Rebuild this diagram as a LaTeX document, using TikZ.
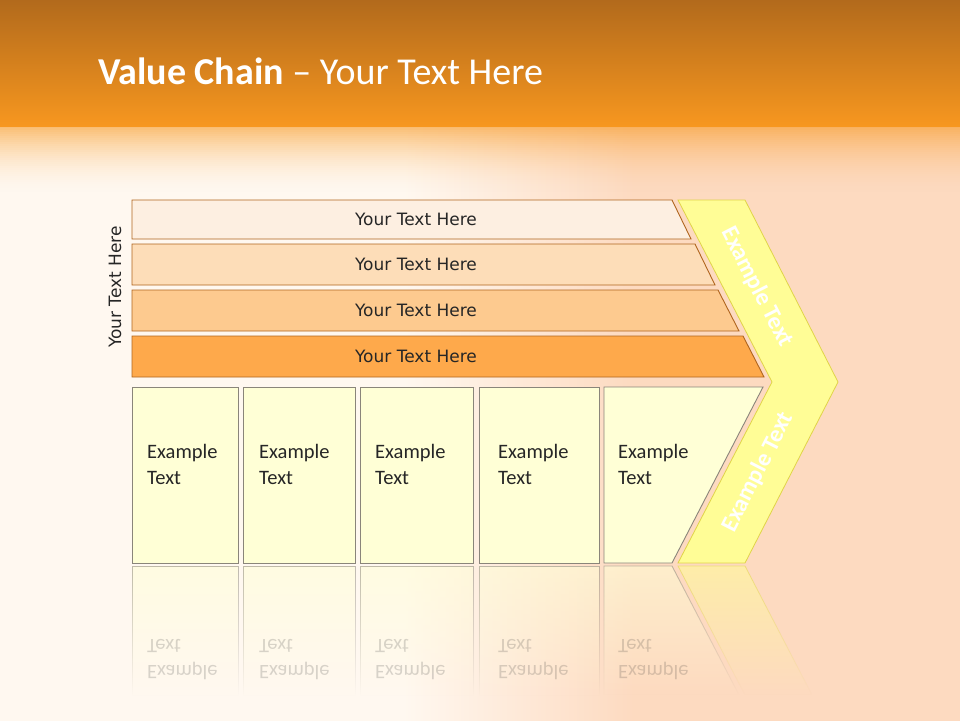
\documentclass[tikz,border=0pt]{standalone}
\usepackage{fontspec}
\setmainfont{Carlito}
\newfontfamily\barfont{DejaVu Sans}
\usetikzlibrary{fadings}

\definecolor{topdark}{HTML}{B26A1C}
\definecolor{toporange}{HTML}{F7971F}
\definecolor{bgcream}{HTML}{FFF8F0}
\definecolor{bgpeach}{HTML}{FDDAC0}
\definecolor{barline}{HTML}{B0651E}
\definecolor{barA}{HTML}{FDEFE1}
\definecolor{barB}{HTML}{FDDDB8}
\definecolor{barC}{HTML}{FDCA8F}
\definecolor{barD}{HTML}{FEA94B}
\definecolor{boxfill}{HTML}{FFFFD6}
\definecolor{boxline}{HTML}{8A857A}
\definecolor{chevfill}{HTML}{FFFD96}
\definecolor{chevline}{HTML}{E0D448}
\definecolor{txtdark}{HTML}{262626}

\pgfdeclarehorizontalshading{bgsplash}{100bp}{color(0bp)=(bgcream); color(46bp)=(bgcream); color(58bp)=(bgpeach); color(100bp)=(bgpeach)}
\tikzfading[name=reflfade, top color=transparent!45, bottom color=transparent!100]

\begin{document}
\begin{tikzpicture}[x=1pt, y=-1pt,
    bartext/.style={font=\barfont\fontsize{17}{20}\selectfont, text=txtdark},
    boxtext/.style={font=\fontsize{20.5}{26}\selectfont, text=txtdark, align=left, anchor=west, inner sep=0pt},
    mirrortext/.style={boxtext, yscale=-1, text opacity=0.18},
    bar/.style={draw=barline, line width=0.9pt},
    exbox/.style={draw=boxline, fill=boxfill, line width=0.9pt},
    reflbox/.style={draw=boxline, fill=boxfill, line width=0.9pt, path fading=reflfade},
    chevron/.style={draw=chevline, fill=chevfill, line width=0.8pt},
    chevtext/.style={font=\bfseries\fontsize{24}{28}\selectfont, text=white}
]
\useasboundingbox (0,0) rectangle (960,720);

% background
\shade[shading=bgsplash] (0,0) rectangle (960,720);
\shade[top color=topdark, bottom color=toporange] (0,0) rectangle (960,126);
\foreach \i in {0,...,34}
    \fill[toporange, fill opacity={0.6*(1-\i/35)^2}] (0,126+2*\i) rectangle (960,128+2*\i);

\node[anchor=base west, inner sep=0pt, text=white, font=\fontsize{38}{42}\selectfont] (title) at (98,84) {\textbf{Value Chain} – Your Text Here};

% reflections
\foreach \n/\xl/\xr/\xt in {1/132/238/147, 2/243/355/259, 3/360/473/375, 4/479/599/498}{
    \path[reflbox] (\xl,566) rectangle (\xr,695);
    \node[mirrortext] (refl\n) at (\xt,659.5) {Example\\Text};
}
\path[reflbox] (604,566) -- (672,566) -- (739,695) -- (604,695) -- cycle;
\node[mirrortext] (refl5) at (618,659.5) {Example\\Text};
\path[chevron, path fading=reflfade] (678,566) -- (745,566) -- (812,695) -- (745,695) -- cycle;

% support bars
\foreach \n/\yt/\yb/\xt/\xb/\col in {1/200/239/672/691/barA, 2/244/285/695/715/barB, 3/290/331/718/739/barC, 4/336/377/743/764/barD}{
    \path[bar, fill=\col] (132,\yt) -- (\xt,\yt) -- (\xb,\yb) -- (132,\yb) -- cycle;
    \node[bartext] (bar\n) at (416,{(\yt+\yb)/2}) {Your Text Here};
}
\node[bartext, rotate=90] (sidelabel) at (115,287) {Your Text Here};

% primary boxes
\foreach \n/\xl/\xr/\xt in {1/132/238/147, 2/243/355/259, 3/360/473/375, 4/479/599/498}{
    \path[exbox] (\xl,387) rectangle (\xr,563);
    \node[boxtext] (box\n) at (\xt,464.5) {Example\\Text};
}
\path[exbox] (604,387) -- (763,387) -- (672,563) -- (604,563) -- cycle;
\node[boxtext] (box5) at (618,464.5) {Example\\Text};

% margin arrow
\path[chevron] (678,200) -- (745,200) -- (838,382) -- (745,563) -- (678,563) -- (772,382) -- cycle;
\node[chevtext, rotate=-62.9] (chevup) at (757,287) {Example Text};
\node[chevtext, rotate=62.9] (chevdown) at (758,472) {Example Text};
\end{tikzpicture}
\end{document}
